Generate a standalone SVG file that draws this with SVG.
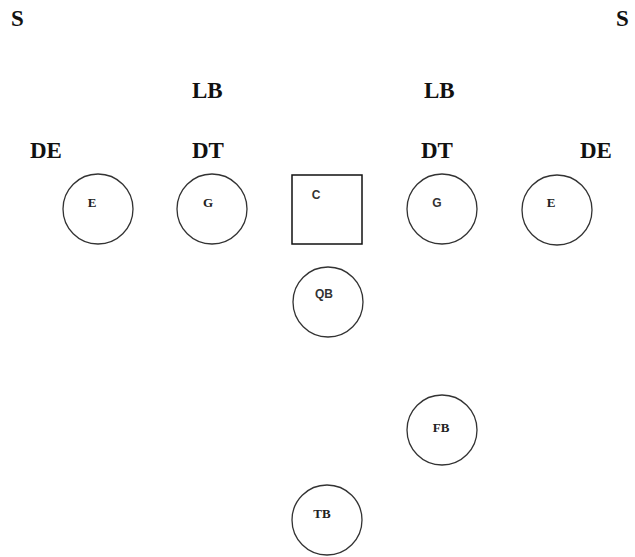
<svg xmlns="http://www.w3.org/2000/svg" width="635" height="557" viewBox="0 0 635 557">
  <style>
    .pos { font-family: "Liberation Serif", "Times New Roman", serif; font-weight: bold; font-size: 23px; fill: #111; }
    .tag { font-family: "Liberation Serif", "Times New Roman", serif; font-weight: bold; font-size: 13px; fill: #222; text-anchor: middle; }
    .tag-s { font-family: "Liberation Sans", Arial, sans-serif; font-weight: bold; font-size: 12px; fill: #333; text-anchor: middle; }
    .tag-n { font-family: "Liberation Serif", "Times New Roman", serif; font-weight: bold; font-size: 13px; fill: #222; text-anchor: middle; }
    .player { fill: #fff; stroke: #333; stroke-width: 1.3; }
    .center { fill: #fff; stroke: #111; stroke-width: 1.5; }
  </style>
  <rect width="635" height="557" fill="#fff"/>

  <!-- defense -->
  <g id="defense">
    <text class="pos" x="11" y="26">S</text>
    <text class="pos" x="616" y="26">S</text>
    <text class="pos" x="192" y="98">LB</text>
    <text class="pos" x="424" y="98">LB</text>
    <text class="pos" x="30" y="158">DE</text>
    <text class="pos" x="192" y="158">DT</text>
    <text class="pos" x="421" y="158">DT</text>
    <text class="pos" x="580" y="158">DE</text>
  </g>

  <!-- offense -->
  <g id="left-end">
    <circle class="player" cx="98" cy="209" r="35"/>
    <text class="tag" x="92" y="207">E</text>
  </g>
  <g id="left-guard">
    <circle class="player" cx="212" cy="209" r="35"/>
    <text class="tag" x="208" y="207">G</text>
  </g>
  <g id="center">
    <rect class="center" x="292" y="175" width="70" height="69"/>
    <text class="tag-s" x="316" y="199">C</text>
  </g>
  <g id="right-guard">
    <circle class="player" cx="442" cy="209" r="35"/>
    <text class="tag-s" x="437" y="207">G</text>
  </g>
  <g id="right-end">
    <circle class="player" cx="557" cy="210" r="35"/>
    <text class="tag" x="551" y="207">E</text>
  </g>
  <g id="quarterback">
    <circle class="player" cx="328" cy="302" r="35"/>
    <text class="tag-s" x="324" y="298">QB</text>
  </g>
  <g id="fullback">
    <circle class="player" cx="442" cy="430" r="35"/>
    <text class="tag-n" x="441" y="432">FB</text>
  </g>
  <g id="tailback">
    <circle class="player" cx="327" cy="520" r="35"/>
    <text class="tag-n" x="322" y="518">TB</text>
  </g>

  <g id="connectors"/>
</svg>
